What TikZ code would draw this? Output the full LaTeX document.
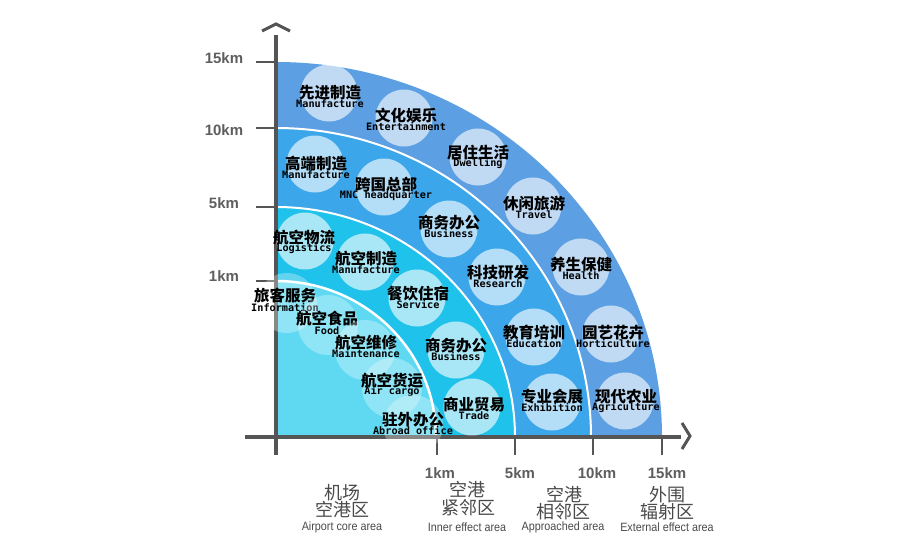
\documentclass[tikz,border=0pt]{standalone}
\usepackage{fontspec}
\setmainfont{Liberation Sans}
\newfontfamily\cjk{Noto Sans CJK SC}
\newfontfamily\monof{DejaVu Sans Mono}
\newfontfamily\narrowf[FakeStretch=0.9]{Liberation Sans}
\definecolor{cA}{HTML}{5C9FE2}
\definecolor{cB}{HTML}{3BA6EA}
\definecolor{cC}{HTML}{1FC2EA}
\definecolor{cD}{HTML}{5FD9F2}
\definecolor{axc}{HTML}{555555}
\definecolor{kmc}{HTML}{5E5E5E}
\definecolor{lblc}{HTML}{4A4A4A}
\newcommand\bubl[8]{%
  \node[#4] (#1) at (#2,#3) {};
  \node[cn] (#1c) at (#5,#6-0.5) {#7};
  \node[en] (#1e) at (#5,#6+10.8) {#8};}
\begin{document}
\begin{tikzpicture}[x=1pt,y=-1pt,
  ax/.style={draw=axc,line width=3.5pt},
  tk/.style={draw=axc,line width=2.6pt},
  bubO/.style={circle,fill=white,fill opacity=0.62,minimum size=57pt,inner sep=0pt},
  bubI/.style={circle,fill=white,fill opacity=0.3,minimum size=60pt,inner sep=0pt},
  cn/.style={font=\cjk\bfseries\fontsize{15.5}{15.5}\selectfont,inner sep=0pt,text=black},
  en/.style={font=\monof\bfseries\fontsize{10.2}{10}\selectfont,inner sep=0pt,text=black},
  km/.style={font=\bfseries\fontsize{15}{16}\selectfont,text=kmc,inner sep=0pt},
  zc/.style={font=\cjk\fontsize{18}{18}\selectfont,text=lblc,inner sep=0pt},
  ze/.style={font=\narrowf\fontsize{12}{12}\selectfont,text=lblc,inner sep=0pt},
  sep/.style={draw=white,line width=2pt}]
\useasboundingbox[fill=white] (0,0) rectangle (900,544);
% bands
\fill[cA] (276,437) -- ++(386pt,0pt) arc[start angle=0,end angle=90,x radius=386pt,y radius=375pt] -- cycle;
\fill[cB] (276,437) -- ++(315pt,0pt) arc[start angle=0,end angle=90,x radius=315pt,y radius=309pt] -- cycle;
\fill[cC] (276,437) -- ++(239pt,0pt) arc[start angle=0,end angle=90,x radius=239pt,y radius=230pt] -- cycle;
\fill[cD] (276,437) -- ++(160pt,0pt) arc[start angle=0,end angle=90,x radius=160pt,y radius=156pt] -- cycle;
\draw[sep] (591,437) arc[start angle=0,end angle=90,x radius=315pt,y radius=309pt];
\draw[sep] (515,437) arc[start angle=0,end angle=90,x radius=239pt,y radius=230pt];
\draw[sep,line width=2.5pt] (436,437) arc[start angle=0,end angle=90,x radius=160pt,y radius=156pt];
% axes
\coordinate (ytop) at (276,35); \coordinate (ybot) at (276,455);
\coordinate (xl) at (245,437); \coordinate (xr) at (681,437);
\draw[ax] (ybot) -- (ytop);
\draw[ax] (xl) -- (xr);
\draw[ax,line width=3pt] (262,31) -- (276,24) -- (290,31);
\draw[ax,line width=3pt] (682,423) -- (690,436) -- (682,449);
\foreach \y in {62,128,207,281} \draw[tk] (256,\y) -- (276,\y);
\foreach \x in {437,515,593,662} \draw[tk] (\x,437) -- (\x,455);
% tick labels
\node[km] (l15) at (224,58) {15km};
\node[km] (l10) at (224,130) {10km};
\node[km] (l5) at (224,203) {5km};
\node[km] (l1) at (224,276) {1km};
\node[km] (b1) at (440,473) {1km};
\node[km] (b5) at (520,473) {5km};
\node[km] (b10) at (597,473) {10km};
\node[km] (b15) at (667,473) {15km};
% outer band
\bubl{o1}{329}{93}{bubO}{330}{93}{先进制造}{Manufacture}
\bubl{o2}{404}{118}{bubO}{406}{116}{文化娱乐}{Entertainment}
\bubl{o3}{478}{157}{bubO}{478}{153}{居住生活}{Dwelling}
\bubl{o4}{533}{206}{bubO}{534}{204}{休闲旅游}{Travel}
\bubl{o5}{581}{267}{bubO}{581}{265}{养生保健}{Health}
\bubl{o6}{611}{334}{bubO}{613}{333}{园艺花卉}{Horticulture}
\bubl{o7}{625}{401}{bubO}{626}{397}{现代农业}{Agriculture}
% 5-10 band
\bubl{m1}{315}{164}{bubO}{316}{164}{高端制造}{Manufacture}
\bubl{m2}{384}{187}{bubO}{386}{185}{跨国总部}{MNC headquarter}
\bubl{m3}{449}{229}{bubO}{449}{223}{商务办公}{Business}
\bubl{m4}{497}{277}{bubO}{498}{273}{科技研发}{Research}
\bubl{m5}{534}{337}{bubO}{534}{333}{教育培训}{Education}
\bubl{m6}{552}{402}{bubO}{552}{397}{专业会展}{Exhibition}
% 1-5 band
\bubl{n1}{305}{241}{bubO}{304}{238}{航空物流}{Logistics}
\bubl{n2}{365}{262}{bubO}{366}{259}{航空制造}{Manufacture}
\bubl{n3}{417}{298}{bubO}{418}{294}{餐饮住宿}{Service}
\bubl{n4}{456}{350}{bubO}{456}{346}{商务办公}{Business}
\bubl{n5}{472}{407}{bubO}{474}{405}{商业贸易}{Trade}
% inner
\bubl{i1}{287}{303}{bubI}{285}{296.5}{旅客服务}{Information}
\bubl{i2}{328}{325}{bubI}{327}{319.5}{航空食品}{Food}
\bubl{i3}{365}{350}{bubI}{366}{343}{航空维修}{Maintenance}
\bubl{i4}{392}{388}{bubI}{392}{381}{航空货运}{Air cargo}
\bubl{i5}{413}{425}{bubI}{413}{420}{驻外办公}{Abroad office}
% zone labels
\node[zc] (z1a) at (342,493) {机场};
\node[zc] (z1b) at (342,510) {空港区};
\node[ze] (z1e) at (342,527) {Airport core area};
\node[zc] (z2a) at (467,490) {空港};
\node[zc] (z2b) at (468,508) {紧邻区};
\node[ze] (z2e) at (467,527) {Inner effect area};
\node[zc] (z3a) at (564,495) {空港};
\node[zc] (z3b) at (563,512) {相邻区};
\node[ze] (z3e) at (563,527) {Approached area};
\node[zc] (z4a) at (667,495) {外围};
\node[zc] (z4b) at (667,512) {辐射区};
\node[ze] (z4e) at (667,527) {External effect area};
\end{tikzpicture}
\end{document}
